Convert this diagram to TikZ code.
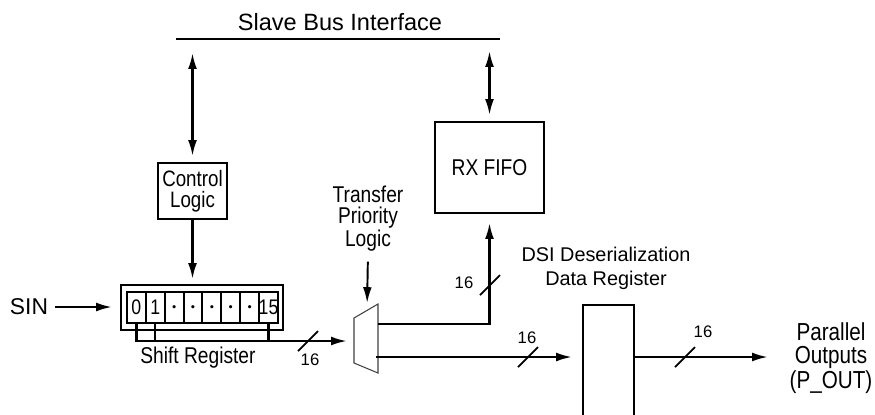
\documentclass[tikz,border=0pt]{standalone}
\usepackage{amsmath}
\usepackage{fontspec}
\setmainfont{Liberation Sans}
\newfontfamily\narrowsf[FakeStretch=0.84]{Liberation Sans}
\usetikzlibrary{arrows.meta,calc}

\begin{document}
\begin{tikzpicture}[x=0.02cm,y=-0.02cm,>={Latex[length=9pt,width=5pt]},
  blk/.style={draw,line width=1.1pt,inner sep=0pt,align=center,font=\narrowsf\fontsize{13}{12}\selectfont},
  cell/.style={draw,line width=1.1pt,inner sep=0pt,minimum width=0.3775cm,minimum height=0.62cm,font=\narrowsf\fontsize{12}{12}\selectfont},
  lbl/.style={inner sep=0pt,align=center,font=\narrowsf\fontsize{13}{12}\selectfont},
  num/.style={inner sep=0pt,font=\fontsize{9.5}{10}\selectfont},
  wire/.style={line width=1.3pt},
  slash/.style={line width=1pt}]
\useasboundingbox (0,0) rectangle (875,414);
% slave bus
\node[inner sep=0pt,font=\fontsize{13.4}{15}\selectfont] (sbi) at (340,22) {Slave Bus Interface};
\coordinate (bus_w) at (176,39);
\coordinate (bus_e) at (500,39);
\draw[wire] (bus_w) -- (bus_e);
% blocks
\node[blk,minimum width=1.38cm,minimum height=1.12cm,font=\narrowsf\fontsize{12.7}{12}\selectfont] (ctrl) at (192.5,191) {Control\\Logic};
\node[blk,minimum width=2.18cm,minimum height=1.82cm] (rx) at (489.5,167.5) {RX FIFO};
\node[blk,minimum width=3.24cm,minimum height=0.9cm] (sreg) at (202,307.5) {};
\foreach \i/\t in {0/0,1/1,2/$\boldsymbol{\cdot}$,3/$\boldsymbol{\cdot}$,4/$\boldsymbol{\cdot}$,5/$\boldsymbol{\cdot}$,6/$\boldsymbol{\cdot}$,7/15}
  \node[cell] (c\i) at ({136.4+18.875*\i},307.5) {\t};
\node[blk,minimum width=1.02cm,minimum height=2.5cm] (dsi) at (608.5,367.5) {};
\draw[draw=black!75,line width=0.6pt] (354,318) -- (378,304) -- (378,373) -- (354,363) -- cycle;
\coordinate (mux_in) at (354,341);
\coordinate (mux_top) at (367,310);
\coordinate (mux_up) at (378,324);
\coordinate (mux_lo) at (376,357);
\coordinate (out_tip) at (768,357);
% labels
\node[inner sep=0pt,font=\fontsize{13}{15}\selectfont] (sin) at (29,307) {SIN};
\node[lbl] (shreg) at (198,358) {Shift Register};
\node[lbl] (tpl) at (368,218.5) {Transfer\\Priority\\Logic};
\node[inner sep=0pt,align=center,font=\fontsize{11.3}{13.6}\selectfont] (dsilbl) at (606,268) {DSI Deserialization\\Data Register};
\node[lbl,font=\narrowsf\fontsize{14}{13}\selectfont] (pout) at (831,358) {Parallel\\Outputs\\(P\_OUT)};
% connectors
\draw[wire,<->,shorten <=0.28cm,shorten >=0.12cm] (bus_w -| ctrl) -- (ctrl.north);
\draw[wire,<->,shorten <=0.24cm,shorten >=0.12cm] (bus_w -| rx) -- (rx.north);
\draw[wire,->,shorten >=0.1cm] (ctrl.south) -- (ctrl.south |- sreg.north);
\draw[wire,->,shorten <=0.14cm,shorten >=0.16cm] (sin.east) -- (sin.east -| sreg.west);
\draw[wire,->,shorten >=0.14cm] (c0.south) |- (mux_in);
\draw[wire] (c1.south) -- (c1.south |- mux_in);
\draw[wire] (c7.south) -- (c7.south |- mux_in);
\draw[line width=1.1pt,->,shorten <=0.2cm,shorten >=0.14cm] (tpl.south) -- (mux_top);
\draw[wire,->,shorten >=0.18cm] (mux_up) -| (rx.south);
\draw[wire,->,shorten >=0.2cm] (mux_lo) -- (mux_lo -| dsi.west);
\draw[wire,->] (dsi.east |- mux_lo) -- (out_tip);
% bus widths
\draw[slash] (308,341) ++(-10,10) -- ++(20,-20);
\node[num] (w1) at (310,360) {16};
\draw[slash] (490,285) ++(-10,10) -- ++(20,-20);
\node[num] (w2) at (464,283) {16};
\draw[slash] (528,357) ++(-10,10) -- ++(20,-20);
\node[num] (w3) at (527,338) {16};
\draw[slash] (685,357) ++(-10,10) -- ++(20,-20);
\node[num] (w4) at (703,332) {16};
\end{tikzpicture}
\end{document}
